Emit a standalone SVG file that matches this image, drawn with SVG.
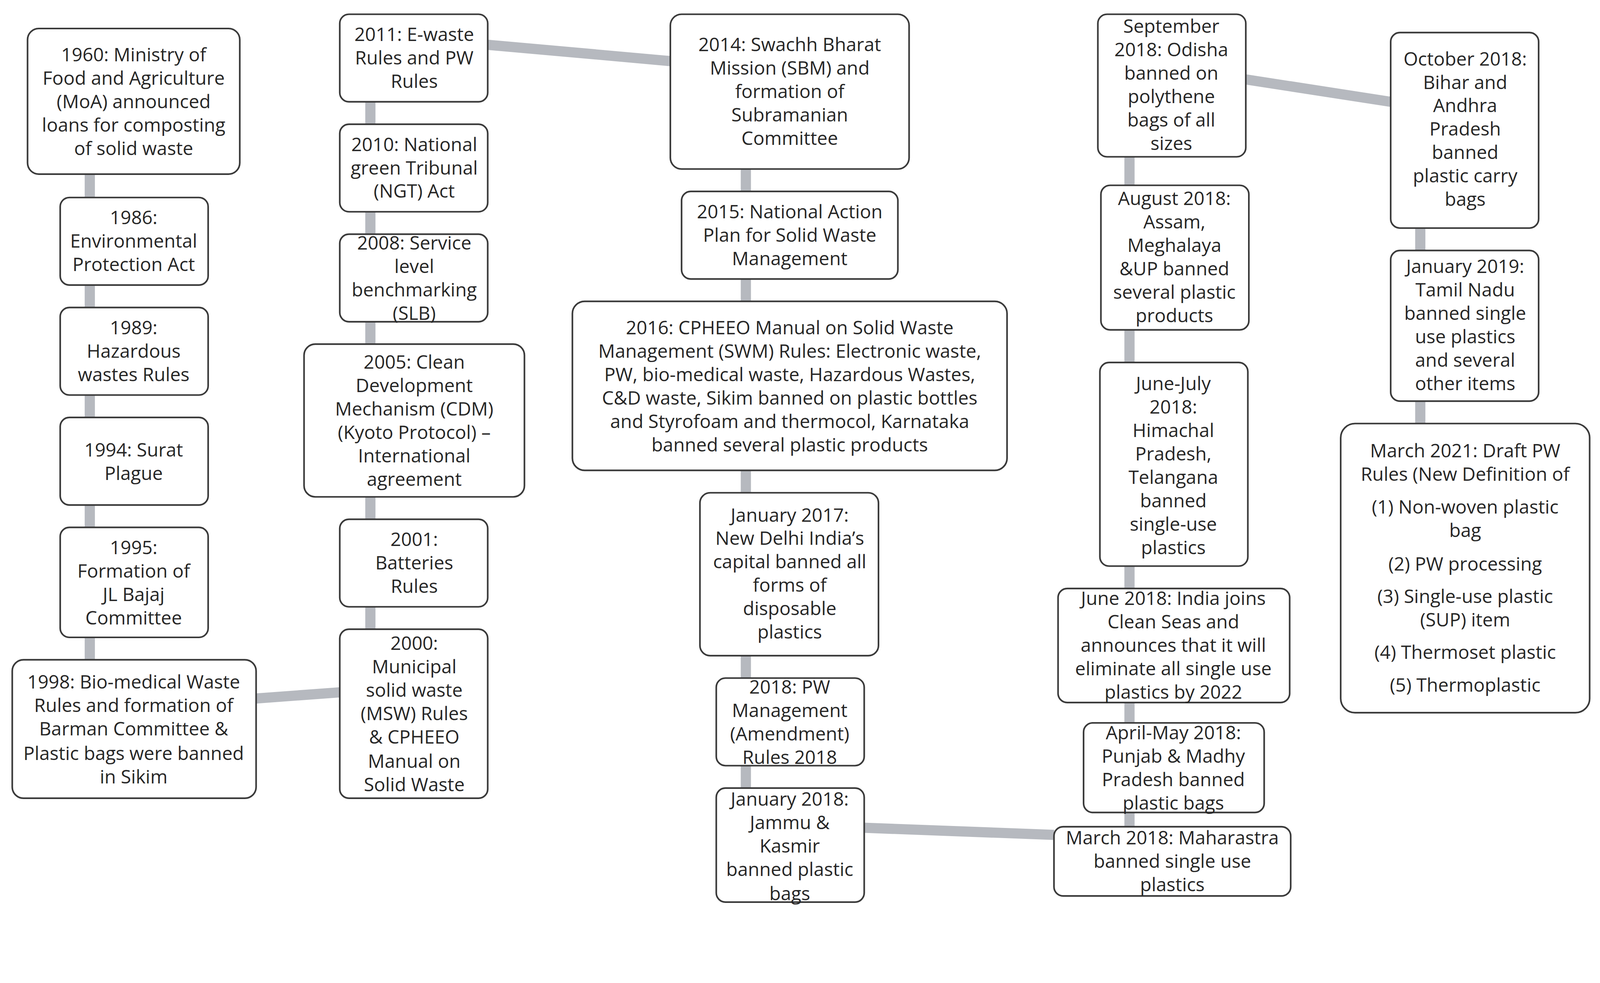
<svg xmlns="http://www.w3.org/2000/svg" width="4398" height="2517" viewBox="0 0 4398 2517">
<style>
.b{fill:#fff;stroke:#3a3a3a;stroke-width:1.6}
.t{font-family:"Open Sans","Noto Sans",sans-serif;font-size:18.3px;fill:#262626;text-anchor:middle;dominant-baseline:central}
.c{stroke:#b6b9bf;stroke-width:10;fill:none}
</style>
<rect width="4398" height="2517" fill="#fff"/>
<g transform="scale(2.612,2.607)">
<g id="connectors">
<line class="c" x1="88" y1="171" x2="88" y2="648"/>
<line class="c" x1="363" y1="100" x2="363" y2="618"/>
<line class="c" x1="731" y1="166" x2="731" y2="774"/>
<line class="c" x1="1107" y1="154" x2="1107" y2="812"/>
<line class="c" x1="1392" y1="224" x2="1392" y2="416"/>
<line class="c" x1="251" y1="686" x2="333" y2="680"/>
<line class="c" x1="478" y1="44" x2="657" y2="60"/>
<line class="c" x1="847" y1="813" x2="1033" y2="820"/>
<line class="c" x1="1221" y1="78" x2="1363" y2="100"/>
</g>
<g id="n1960"><rect class="b" x="27" y="28" width="208" height="143" rx="11"/><text class="t"><tspan x="131" y="53">1960: Ministry of</tspan><tspan x="131" y="76">Food and Agriculture</tspan><tspan x="131" y="99">(MoA) announced</tspan><tspan x="131" y="122">loans for composting</tspan><tspan x="131" y="145">of solid waste</tspan></text></g>
<g id="n1986"><rect class="b" x="59" y="194" width="145" height="86" rx="9"/><text class="t"><tspan x="131" y="213">1986:</tspan><tspan x="131" y="236">Environmental</tspan><tspan x="131" y="259">Protection Act</tspan></text></g>
<g id="n1989"><rect class="b" x="59" y="302" width="145" height="86" rx="9"/><text class="t"><tspan x="131" y="321">1989:</tspan><tspan x="131" y="344">Hazardous</tspan><tspan x="131" y="367">wastes Rules</tspan></text></g>
<g id="n1994"><rect class="b" x="59" y="410" width="145" height="86" rx="9"/><text class="t"><tspan x="131" y="441">1994: Surat</tspan><tspan x="131" y="464">Plague</tspan></text></g>
<g id="n1995"><rect class="b" x="59" y="518" width="145" height="108" rx="9"/><text class="t"><tspan x="131" y="537">1995:</tspan><tspan x="131" y="560">Formation of</tspan><tspan x="131" y="583">JL Bajaj</tspan><tspan x="131" y="606">Committee</tspan></text></g>
<g id="n1998"><rect class="b" x="12" y="648" width="239" height="136" rx="11"/><text class="t"><tspan x="131" y="669">1998: Bio-medical Waste</tspan><tspan x="131" y="692">Rules and formation of</tspan><tspan x="131" y="715">Barman Committee &amp;</tspan><tspan x="131" y="739">Plastic bags were banned</tspan><tspan x="131" y="762">in Sikim</tspan></text></g>
<g id="n2011"><rect class="b" x="333" y="14" width="145" height="86" rx="9"/><text class="t"><tspan x="406" y="33">2011: E-waste</tspan><tspan x="406" y="56">Rules and PW</tspan><tspan x="406" y="79">Rules</tspan></text></g>
<g id="n2010"><rect class="b" x="333" y="122" width="145" height="86" rx="9"/><text class="t"><tspan x="406" y="141">2010: National</tspan><tspan x="406" y="164">green Tribunal</tspan><tspan x="406" y="187">(NGT) Act</tspan></text></g>
<g id="n2008"><rect class="b" x="333" y="230" width="145" height="86" rx="9"/><text class="t"><tspan x="406" y="238">2008: Service</tspan><tspan x="406" y="261">level</tspan><tspan x="406" y="284">benchmarking</tspan><tspan x="406" y="307">(SLB)</tspan></text></g>
<g id="n2005"><rect class="b" x="298" y="338" width="216" height="150" rx="11"/><text class="t"><tspan x="406" y="355">2005: Clean</tspan><tspan x="406" y="378">Development</tspan><tspan x="406" y="401">Mechanism (CDM)</tspan><tspan x="406" y="424">(Kyoto Protocol) –</tspan><tspan x="406" y="447">International</tspan><tspan x="406" y="470">agreement</tspan></text></g>
<g id="n2001"><rect class="b" x="333" y="510" width="145" height="86" rx="9"/><text class="t"><tspan x="406" y="529">2001:</tspan><tspan x="406" y="552">Batteries</tspan><tspan x="406" y="575">Rules</tspan></text></g>
<g id="n2000"><rect class="b" x="333" y="618" width="145" height="166" rx="9"/><text class="t"><tspan x="406" y="631">2000:</tspan><tspan x="406" y="654">Municipal</tspan><tspan x="406" y="677">solid waste</tspan><tspan x="406" y="700">(MSW) Rules</tspan><tspan x="406" y="723">&amp; CPHEEO</tspan><tspan x="406" y="747">Manual on</tspan><tspan x="406" y="770">Solid Waste</tspan></text></g>
<g id="n2014"><rect class="b" x="657" y="14" width="234" height="152" rx="11"/><text class="t"><tspan x="774" y="43">2014: Swachh Bharat</tspan><tspan x="774" y="66">Mission (SBM) and</tspan><tspan x="774" y="89">formation of</tspan><tspan x="774" y="112">Subramanian</tspan><tspan x="774" y="135">Committee</tspan></text></g>
<g id="n2015"><rect class="b" x="668" y="188" width="212" height="86" rx="9"/><text class="t"><tspan x="774" y="207">2015: National Action</tspan><tspan x="774" y="230">Plan for Solid Waste</tspan><tspan x="774" y="253">Management</tspan></text></g>
<g id="n2016"><rect class="b" x="561" y="296" width="426" height="166" rx="12"/><text class="t"><tspan x="774" y="321">2016: CPHEEO Manual on Solid Waste</tspan><tspan x="774" y="344">Management (SWM) Rules: Electronic waste,</tspan><tspan x="774" y="367">PW, bio-medical waste, Hazardous Wastes,</tspan><tspan x="774" y="390">C&amp;D waste, Sikim banned on plastic bottles</tspan><tspan x="774" y="413">and Styrofoam and thermocol, Karnataka</tspan><tspan x="774" y="436">banned several plastic products</tspan></text></g>
<g id="n2017"><rect class="b" x="686" y="484" width="175" height="160" rx="10"/><text class="t"><tspan x="774" y="505">January 2017:</tspan><tspan x="774" y="528">New Delhi India’s</tspan><tspan x="774" y="551">capital banned all</tspan><tspan x="774" y="574">forms of</tspan><tspan x="774" y="597">disposable</tspan><tspan x="774" y="620">plastics</tspan></text></g>
<g id="n2018pw"><rect class="b" x="702" y="666" width="145" height="86" rx="9"/><text class="t"><tspan x="774" y="674">2018: PW</tspan><tspan x="774" y="697">Management</tspan><tspan x="774" y="720">(Amendment)</tspan><tspan x="774" y="743">Rules 2018</tspan></text></g>
<g id="njan2018"><rect class="b" x="702" y="774" width="145" height="112" rx="9"/><text class="t"><tspan x="774" y="784">January 2018:</tspan><tspan x="774" y="807">Jammu &amp;</tspan><tspan x="774" y="830">Kasmir</tspan><tspan x="774" y="853">banned plastic</tspan><tspan x="774" y="877">bags</tspan></text></g>
<g id="nsep2018"><rect class="b" x="1076" y="14" width="145" height="140" rx="9"/><text class="t"><tspan x="1148" y="25">September</tspan><tspan x="1148" y="48">2018: Odisha</tspan><tspan x="1148" y="71">banned on</tspan><tspan x="1148" y="94">polythene</tspan><tspan x="1148" y="117">bags of all</tspan><tspan x="1148" y="140">sizes</tspan></text></g>
<g id="naug2018"><rect class="b" x="1079" y="182" width="145" height="142" rx="9"/><text class="t"><tspan x="1151" y="194">August 2018:</tspan><tspan x="1151" y="217">Assam,</tspan><tspan x="1151" y="240">Meghalaya</tspan><tspan x="1151" y="263">&amp;UP banned</tspan><tspan x="1151" y="286">several plastic</tspan><tspan x="1151" y="309">products</tspan></text></g>
<g id="njunjul2018"><rect class="b" x="1078" y="356" width="145" height="200" rx="9"/><text class="t"><tspan x="1150" y="376">June-July</tspan><tspan x="1150" y="399">2018:</tspan><tspan x="1150" y="422">Himachal</tspan><tspan x="1150" y="445">Pradesh,</tspan><tspan x="1150" y="468">Telangana</tspan><tspan x="1150" y="491">banned</tspan><tspan x="1150" y="514">single-use</tspan><tspan x="1150" y="537">plastics</tspan></text></g>
<g id="njun2018"><rect class="b" x="1037" y="578" width="227" height="112" rx="9"/><text class="t"><tspan x="1150" y="587">June 2018: India joins</tspan><tspan x="1150" y="610">Clean Seas and</tspan><tspan x="1150" y="633">announces that it will</tspan><tspan x="1150" y="656">eliminate all single use</tspan><tspan x="1150" y="679">plastics by 2022</tspan></text></g>
<g id="naprmay2018"><rect class="b" x="1062" y="710" width="177" height="88" rx="9"/><text class="t"><tspan x="1150" y="719">April-May 2018:</tspan><tspan x="1150" y="742">Punjab &amp; Madhy</tspan><tspan x="1150" y="765">Pradesh banned</tspan><tspan x="1150" y="788">plastic bags</tspan></text></g>
<g id="nmar2018"><rect class="b" x="1033" y="812" width="232" height="68" rx="9"/><text class="t"><tspan x="1149" y="822">March 2018: Maharastra</tspan><tspan x="1149" y="845">banned single use</tspan><tspan x="1149" y="868">plastics</tspan></text></g>
<g id="noct2018"><rect class="b" x="1363" y="32" width="145" height="192" rx="9"/><text class="t"><tspan x="1436" y="57">October 2018:</tspan><tspan x="1436" y="80">Bihar and</tspan><tspan x="1436" y="103">Andhra</tspan><tspan x="1436" y="126">Pradesh</tspan><tspan x="1436" y="149">banned</tspan><tspan x="1436" y="172">plastic carry</tspan><tspan x="1436" y="195">bags</tspan></text></g>
<g id="njan2019"><rect class="b" x="1363" y="246" width="145" height="148" rx="9"/><text class="t"><tspan x="1436" y="261">January 2019:</tspan><tspan x="1436" y="284">Tamil Nadu</tspan><tspan x="1436" y="307">banned single</tspan><tspan x="1436" y="330">use plastics</tspan><tspan x="1436" y="353">and several</tspan><tspan x="1436" y="376">other items</tspan></text></g>
<g id="nmar2021"><rect class="b" x="1314" y="416" width="244" height="284" rx="14"/><text class="t"><tspan x="1436" y="442">March 2021: Draft PW</tspan><tspan x="1436" y="465">Rules (New Definition of</tspan><tspan x="1436" y="497">(1) Non-woven plastic</tspan><tspan x="1436" y="520">bag</tspan><tspan x="1436" y="553">(2) PW processing</tspan><tspan x="1436" y="585">(3) Single-use plastic</tspan><tspan x="1436" y="608">(SUP) item</tspan><tspan x="1436" y="640">(4) Thermoset plastic</tspan><tspan x="1436" y="672">(5) Thermoplastic</tspan></text></g>
</g>
</svg>
